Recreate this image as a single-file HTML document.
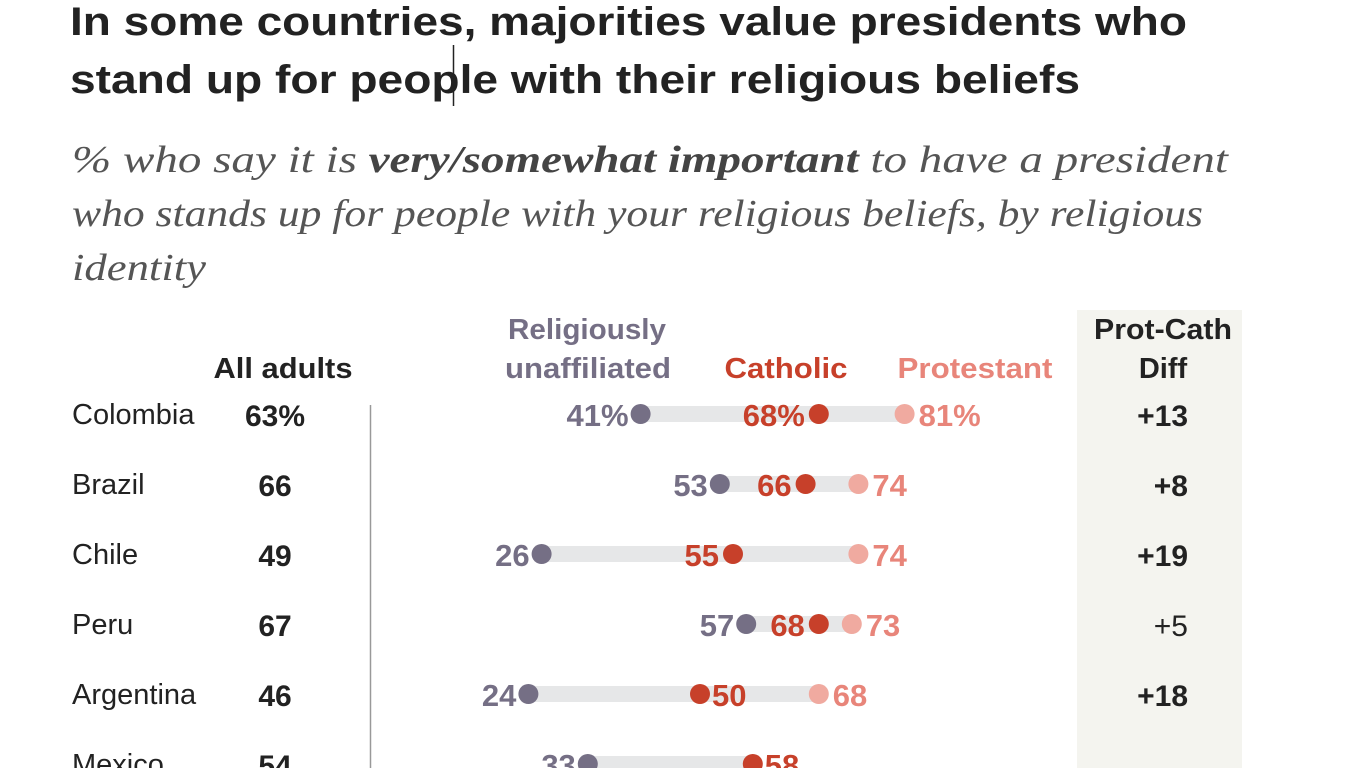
<!DOCTYPE html>
<html><head><meta charset="utf-8"><style>
html,body{margin:0;padding:0;background:#fff;}
svg{display:block;font-family:"Liberation Sans",sans-serif;}
</style></head><body>
<svg width="1366" height="768" viewBox="0 0 1366 768">
<rect x="1077" y="310" width="165" height="458" fill="#f4f4ef"/>
<text x="70" y="35" font-size="40" font-weight="bold" fill="#222" textLength="1117" lengthAdjust="spacingAndGlyphs">In some countries, majorities value presidents who</text>
<text x="70" y="93" font-size="40" font-weight="bold" fill="#222" textLength="1010" lengthAdjust="spacingAndGlyphs">stand up for people with their religious beliefs</text>
<line x1="453.5" y1="45" x2="453.5" y2="106" stroke="#222" stroke-width="1.5"/>
<g font-family="Liberation Serif,serif" font-style="italic" font-size="38" fill="#555">
<text x="72" y="172" textLength="1156" lengthAdjust="spacingAndGlyphs">% who say it is <tspan font-weight="bold" fill="#444">very/somewhat important</tspan> to have a president</text>
<text x="72" y="226" textLength="1131" lengthAdjust="spacingAndGlyphs">who stands up for people with your religious beliefs, by religious</text>
<text x="72" y="280" textLength="134" lengthAdjust="spacingAndGlyphs">identity</text>
</g>
<g font-weight="bold" font-size="29">
<text x="283" y="378" text-anchor="middle" fill="#222" textLength="139" lengthAdjust="spacingAndGlyphs">All adults</text>
<text x="587" y="339" text-anchor="middle" fill="#756f85" textLength="158" lengthAdjust="spacingAndGlyphs">Religiously</text>
<text x="588" y="378" text-anchor="middle" fill="#756f85" textLength="166" lengthAdjust="spacingAndGlyphs">unaffiliated</text>
<text x="786" y="378" text-anchor="middle" fill="#c7402a" textLength="123" lengthAdjust="spacingAndGlyphs">Catholic</text>
<text x="975" y="378" text-anchor="middle" fill="#e8857a" textLength="155" lengthAdjust="spacingAndGlyphs">Protestant</text>
<text x="1163" y="339" text-anchor="middle" fill="#222" textLength="138" lengthAdjust="spacingAndGlyphs">Prot-Cath</text>
<text x="1163" y="378" text-anchor="middle" fill="#222">Diff</text>
</g>
<line x1="370.5" y1="405" x2="370.5" y2="768" stroke="#999" stroke-width="1.5"/>
<g id="rows"></g>
</svg>
<script>
const countries=["Colombia","Brazil","Chile","Peru","Argentina","Mexico"];
const allAdults=[63,66,49,67,46,54];
const unaffiliated=[41,53,26,57,24,33];
const catholic=[68,66,55,68,50,58];
const protestant=[81,74,74,73,68,null];
const diffLabels=["+13","+8","+19","+5","+18",""];
const diffBold=[true,true,true,false,true,true];
const catholicLabelLeft=[true,true,true,true,false,false];
const NS="http://www.w3.org/2000/svg";
const xs=v=>370+v*6.6;
const ys=i=>414+i*70;
const g=document.getElementById('rows');
function mk(tag,attrs,txt){const e=document.createElementNS(NS,tag);for(const k in attrs)e.setAttribute(k,attrs[k]);if(txt!==undefined)e.textContent=txt;g.appendChild(e);return e;}
countries.forEach((c,i)=>{
  const y=ys(i);const pct=i===0?"%":"";
  let e=mk('text',{x:72,y:y+10,'font-size':29,fill:'#222'},c);
  
  
  e=mk('text',{x:275,y:y+12,'font-size':30,'font-weight':'bold','text-anchor':'middle',fill:'#222'},allAdults[i]+pct);
  
  
  const vals=[unaffiliated[i],catholic[i],protestant[i]].filter(v=>v!==null);
  const lo=Math.min(...vals),hi=Math.max(...vals);
  e=mk('rect',{x:xs(lo),y:y-8,width:xs(hi)-xs(lo),height:16,fill:'#e6e7e8'});
  
  
  e=mk('circle',{cx:xs(unaffiliated[i]),cy:y,r:10,fill:'#756f85'});
  
  
  e=mk('text',{x:xs(unaffiliated[i])-12,y:y+12,'font-size':31,'font-weight':'bold','text-anchor':'end',fill:'#756f85'},unaffiliated[i]+pct);
  
  
  e=mk('circle',{cx:xs(catholic[i]),cy:y,r:10,fill:'#c7402a'});
  
  
  const L=catholicLabelLeft[i];
  e=mk('text',{x:xs(catholic[i])+(L?-14:12),y:y+12,'font-size':31,'font-weight':'bold','text-anchor':L?'end':'start',fill:'#c7402a'},catholic[i]+pct);
  
  
  if(protestant[i]!==null){
    e=mk('circle',{cx:xs(protestant[i]),cy:y,r:10,fill:'#f0aaa0'});
    
    
    e=mk('text',{x:xs(protestant[i])+14,y:y+12,'font-size':31,'font-weight':'bold',fill:'#e8857a'},protestant[i]+pct);
    
    
  }
  e=mk('text',{x:1188,y:y+12,'font-size':30,'font-weight':diffBold[i]?'bold':'normal','text-anchor':'end',fill:'#222'},diffLabels[i]);
  
  
});
</script>
</body></html>
